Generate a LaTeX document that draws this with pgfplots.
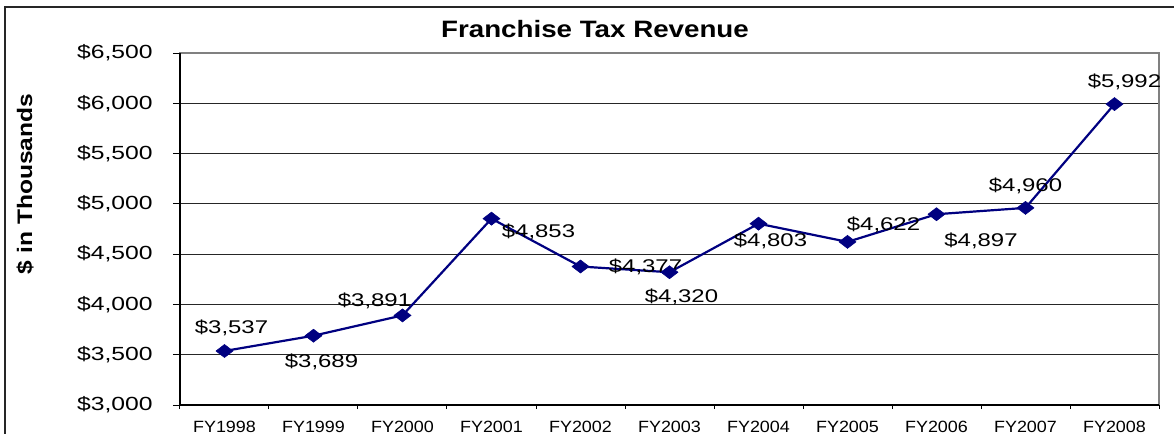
\documentclass[border=0pt]{standalone}
\usepackage{fontspec}
\setmainfont{Liberation Sans}[FakeStretch=1.3]
\newfontfamily\titlefont{Liberation Sans}[FakeStretch=1.17]
\newfontfamily\xfont{Liberation Sans}[FakeStretch=1.1]
\usepackage{pgfplots}
\usepackage{pgfplotstable}
\pgfplotsset{compat=1.18}
\definecolor{navy}{HTML}{000080}
\pgfplotstableread{
x y dx dy
0 3537 3.5 11.5
1 3689 4 -13
2 3891 -14 7.25
3 4853 23.5 -6.5
4 4377 32.5 0
5 4320 6 -12.25
6 4803 6 -8.5
7 4622 18 8.5
8 4897 22.25 -13.25
9 4960 0 11.25
10 5992 5 11
}\data
\begin{document}
\begin{tikzpicture}
\useasboundingbox (-90pt,-14.5pt) rectangle (497pt,202.5pt);
\draw[line width=0.75pt, black!85] (-87.5pt,-40pt) -- (-87.5pt,199pt) -- (540pt,199pt);
\begin{axis}[
  at={(0pt,0pt)}, anchor=south west,
  scale only axis, width=489.5pt, height=176pt,
  xmin=-0.5, xmax=10.5, ymin=3000, ymax=6500,
  xtick={0,...,10},
  xticklabels={FY1998,FY1999,FY2000,FY2001,FY2002,FY2003,FY2004,FY2005,FY2006,FY2007,FY2008},
  major x tick style={draw=none},
  extra x ticks={-0.5,0.5,...,10.5},
  extra x tick labels={},
  extra x tick style={major tick length=2pt, major x tick style={draw=black, line width=0.5pt}, grid=none},
  ytick={3000,3500,...,6500},
  yticklabels={{\$3,000},{\$3,500},{\$4,000},{\$4,500},{\$5,000},{\$5,500},{\$6,000},{\$6,500}},
  ymajorgrids, grid style={black!85, line width=0.5pt},
  tick align=outside, tick pos=left, major tick length=3.5pt,
  major y tick style={black, line width=0.5pt},
  axis line style={draw=gray, line width=0.9pt},
  yticklabel style={anchor=east, inner sep=0pt, xshift=-10pt, font=\fontsize{9.5pt}{11pt}\selectfont},
  xticklabel style={anchor=center, inner sep=0pt, yshift=-7.25pt, font=\xfont\fontsize{8.15pt}{9pt}\selectfont},
  title={\bfseries Franchise Tax Revenue},
  title style={at={(axis description cs:0.4239,1.034)}, anchor=center, inner sep=0pt, font=\titlefont\fontsize{11.85pt}{13pt}\selectfont},
  ylabel={\bfseries \$ in Thousands},
  ylabel style={at={(axis description cs:-0.1583,0.6278)}, anchor=center, inner sep=0pt, font=\titlefont\fontsize{10.5pt}{12pt}\selectfont},
  clip=false,
  after end axis/.code={
    \draw[black, line width=0.7pt] (rel axis cs:0,1) -- (rel axis cs:0,0) -- (rel axis cs:1,0);
  },
]
\addplot[navy, line width=1.1pt, mark=diamond*, mark size=3.25pt,
  mark options={solid, xscale=1.74, line width=0.3pt, draw=navy, fill=navy},
  point meta=\thisrow{y},
  visualization depends on={\thisrow{dx}\as\dx},
  visualization depends on={\thisrow{dy}\as\dy},
  nodes near coords={\$\pgfmathprintnumber[assume math mode=true, 1000 sep={,}, fixed, precision=0]{\pgfplotspointmeta}},
  nodes near coords style={anchor=center, inner sep=0pt, xshift=\dx pt, yshift=\dy pt, text=black, font=\fontsize{9.2pt}{11pt}\selectfont},
] table[x=x, y=y] {\data};
\end{axis}
\end{tikzpicture}
\end{document}
